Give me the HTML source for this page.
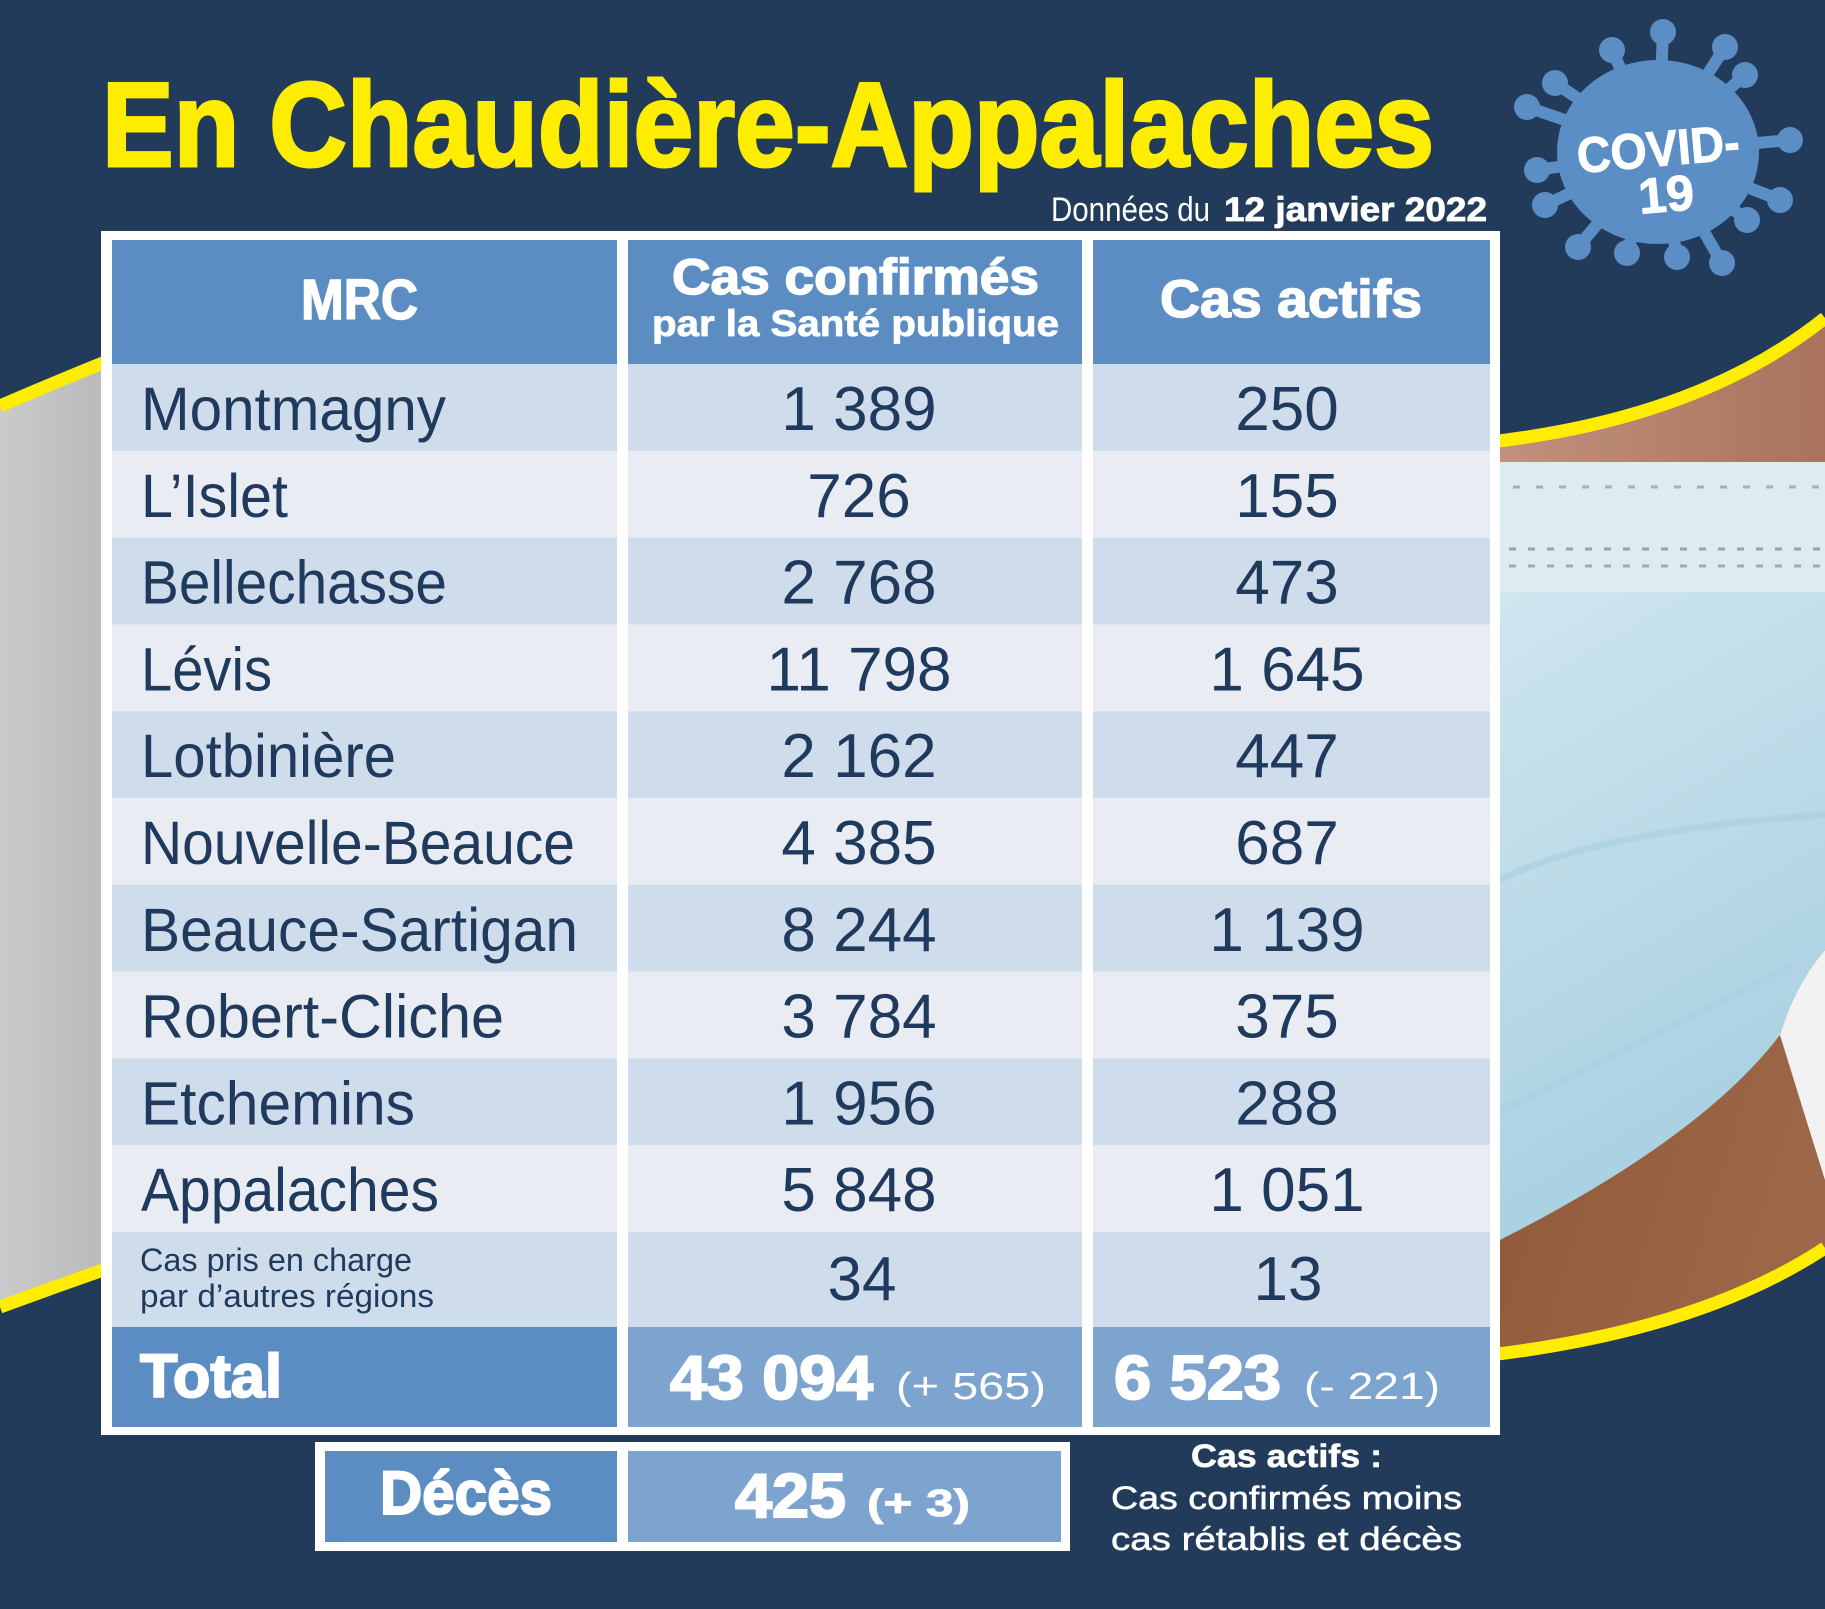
<!DOCTYPE html>
<html>
<head>
<meta charset="utf-8">
<style>
html,body{margin:0;padding:0;background:#223b5b;}
svg{display:block;}
text{font-family:"Liberation Sans",Arial,sans-serif;}
</style>
</head>
<body>
<svg xmlns="http://www.w3.org/2000/svg" width="1825" height="1609" viewBox="0 0 1825 1609">
<defs>
  <linearGradient id="grey" x1="0" x2="1" y1="0" y2="0">
    <stop offset="0" stop-color="#cacaca"/>
    <stop offset="1" stop-color="#b8b8b8"/>
  </linearGradient>
  <linearGradient id="maskg" x1="0" y1="0" x2="0.25" y2="1">
    <stop offset="0" stop-color="#d6ebf1"/>
    <stop offset="0.45" stop-color="#c2deea"/>
    <stop offset="1" stop-color="#a8d0e1"/>
  </linearGradient>
  <linearGradient id="skinb" x1="0" y1="0" x2="1" y2="1">
    <stop offset="0" stop-color="#86502f"/>
    <stop offset="1" stop-color="#a06a4c"/>
  </linearGradient>
  <linearGradient id="skint" x1="0" y1="0" x2="1" y2="0">
    <stop offset="0" stop-color="#c2937f"/>
    <stop offset="1" stop-color="#a9735c"/>
  </linearGradient>
  <clipPath id="rc"><path d="M1490,442 Q1700,418 1825,318 L1825,1248 Q1700,1330 1490,1355 Z"/></clipPath>
</defs>

<rect width="1825" height="1609" fill="#223b5b"/>

<!-- left grey swoosh -->
<path d="M0,406 Q60,380 120,356 L120,1264 Q60,1285 0,1307 Z" fill="url(#grey)"/>
<path d="M0,406 Q60,380 120,356" fill="none" stroke="#ffed00" stroke-width="13"/>
<path d="M0,1307 Q60,1285 120,1264" fill="none" stroke="#ffed00" stroke-width="13"/>

<!-- right photo -->
<g clip-path="url(#rc)">
  <rect x="1480" y="300" width="345" height="1100" fill="url(#skinb)"/>
  <rect x="1480" y="300" width="345" height="170" fill="url(#skint)"/>
  <path d="M1480,462 L1825,462 L1825,950 Q1795,985 1780,1035 Q1700,1140 1490,1245 L1480,1245 Z" fill="url(#maskg)"/>
  <rect x="1480" y="462" width="345" height="130" fill="#dcecf0"/>
  <line x1="1490" y1="487" x2="1825" y2="487" stroke="#9fb4bd" stroke-width="3" stroke-dasharray="7 16"/>
  <line x1="1490" y1="549" x2="1825" y2="549" stroke="#8ea6b1" stroke-width="3" stroke-dasharray="7 12"/>
  <line x1="1490" y1="566" x2="1825" y2="566" stroke="#97adb7" stroke-width="3" stroke-dasharray="7 12"/>
  <path d="M1500,880 Q1600,830 1825,815" fill="none" stroke="#a9cfdf" stroke-width="7" opacity="0.6"/>
  <path d="M1500,1110 Q1650,1040 1790,965" fill="none" stroke="#a6cddf" stroke-width="7" opacity="0.5"/>
  <path d="M1825,950 Q1795,985 1780,1035 Q1800,1100 1825,1180 Z" fill="#f2f2f2"/>
</g>
<path d="M1490,442 Q1700,418 1825,318" fill="none" stroke="#ffed00" stroke-width="13"/>
<path d="M1490,1355 Q1700,1330 1825,1248" fill="none" stroke="#ffed00" stroke-width="13"/>

<!-- Title -->
<text x="102" y="166" font-size="120" font-weight="bold" fill="#ffed00" stroke="#ffed00" stroke-width="3" textLength="1332" lengthAdjust="spacingAndGlyphs">En Chaudière-Appalaches</text>

<!-- Date -->
<text x="1051" y="221" font-size="34" fill="#ffffff" textLength="159" lengthAdjust="spacingAndGlyphs">Données du</text>
<text x="1224" y="221" font-size="34" font-weight="bold" fill="#ffffff" stroke="#ffffff" stroke-width="0.8" textLength="263" lengthAdjust="spacingAndGlyphs">12 janvier 2022</text>

<!-- Virus -->
<g fill="#5b8ec4" stroke="#5b8ec4">
  <g stroke-width="12" fill="none">
    <line x1="1658" y1="152" x2="1663" y2="32"/>
    <line x1="1658" y1="152" x2="1612" y2="50"/>
    <line x1="1658" y1="152" x2="1725" y2="47"/>
    <line x1="1658" y1="152" x2="1745" y2="75"/>
    <line x1="1658" y1="152" x2="1555" y2="83"/>
    <line x1="1658" y1="152" x2="1527" y2="107"/>
    <line x1="1658" y1="152" x2="1790" y2="140"/>
    <line x1="1658" y1="152" x2="1537" y2="170"/>
    <line x1="1658" y1="152" x2="1545" y2="205"/>
    <line x1="1658" y1="152" x2="1780" y2="200"/>
    <line x1="1658" y1="152" x2="1747" y2="220"/>
    <line x1="1658" y1="152" x2="1578" y2="247"/>
    <line x1="1658" y1="152" x2="1627" y2="253"/>
    <line x1="1658" y1="152" x2="1677" y2="257"/>
    <line x1="1658" y1="152" x2="1722" y2="263"/>
  </g>
  <g stroke="none">
    <ellipse cx="1658" cy="152" rx="101" ry="92"/>
    <circle cx="1663" cy="32" r="13"/>
    <circle cx="1612" cy="50" r="13"/>
    <circle cx="1725" cy="47" r="13"/>
    <circle cx="1745" cy="75" r="13"/>
    <circle cx="1555" cy="83" r="13"/>
    <circle cx="1527" cy="107" r="13"/>
    <circle cx="1790" cy="140" r="13"/>
    <circle cx="1537" cy="170" r="13"/>
    <circle cx="1545" cy="205" r="13"/>
    <circle cx="1780" cy="200" r="13"/>
    <circle cx="1747" cy="220" r="13"/>
    <circle cx="1578" cy="247" r="13"/>
    <circle cx="1627" cy="253" r="13"/>
    <circle cx="1677" cy="257" r="13"/>
    <circle cx="1722" cy="263" r="13"/>
  </g>
</g>
<g transform="rotate(-5 1660 170)">
  <text x="1660" y="166" font-size="50" font-weight="bold" fill="#ffffff" stroke="#ffffff" stroke-width="1" text-anchor="middle" textLength="163" lengthAdjust="spacingAndGlyphs">COVID-</text>
  <text x="1664" y="212" font-size="50" font-weight="bold" fill="#ffffff" stroke="#ffffff" stroke-width="1" text-anchor="middle">19</text>
</g>

<!-- Table -->
<rect x="101" y="231" width="1399" height="1204" fill="#ffffff"/>
<rect x="112" y="240" width="505" height="124" fill="#5b8dc3"/>
<rect x="628" y="240" width="454" height="124" fill="#5b8dc3"/>
<rect x="1093" y="240" width="397" height="124" fill="#5b8dc3"/>

<g>
<rect x="112" y="364" width="505" height="87" fill="#cfdcec"/><rect x="628" y="364" width="454" height="87" fill="#cfdcec"/><rect x="1093" y="364" width="397" height="87" fill="#cfdcec"/>
<rect x="112" y="450.8" width="505" height="87" fill="#e9edf3"/><rect x="628" y="450.8" width="454" height="87" fill="#e9edf3"/><rect x="1093" y="450.8" width="397" height="87" fill="#e9edf3"/>
<rect x="112" y="537.6" width="505" height="87" fill="#cfdcec"/><rect x="628" y="537.6" width="454" height="87" fill="#cfdcec"/><rect x="1093" y="537.6" width="397" height="87" fill="#cfdcec"/>
<rect x="112" y="624.4" width="505" height="87" fill="#e9edf3"/><rect x="628" y="624.4" width="454" height="87" fill="#e9edf3"/><rect x="1093" y="624.4" width="397" height="87" fill="#e9edf3"/>
<rect x="112" y="711.2" width="505" height="87" fill="#cfdcec"/><rect x="628" y="711.2" width="454" height="87" fill="#cfdcec"/><rect x="1093" y="711.2" width="397" height="87" fill="#cfdcec"/>
<rect x="112" y="798" width="505" height="87" fill="#e9edf3"/><rect x="628" y="798" width="454" height="87" fill="#e9edf3"/><rect x="1093" y="798" width="397" height="87" fill="#e9edf3"/>
<rect x="112" y="884.8" width="505" height="87" fill="#cfdcec"/><rect x="628" y="884.8" width="454" height="87" fill="#cfdcec"/><rect x="1093" y="884.8" width="397" height="87" fill="#cfdcec"/>
<rect x="112" y="971.6" width="505" height="87" fill="#e9edf3"/><rect x="628" y="971.6" width="454" height="87" fill="#e9edf3"/><rect x="1093" y="971.6" width="397" height="87" fill="#e9edf3"/>
<rect x="112" y="1058.4" width="505" height="87" fill="#cfdcec"/><rect x="628" y="1058.4" width="454" height="87" fill="#cfdcec"/><rect x="1093" y="1058.4" width="397" height="87" fill="#cfdcec"/>
<rect x="112" y="1145.2" width="505" height="87" fill="#e9edf3"/><rect x="628" y="1145.2" width="454" height="87" fill="#e9edf3"/><rect x="1093" y="1145.2" width="397" height="87" fill="#e9edf3"/>
<rect x="112" y="1232" width="505" height="95" fill="#cfdcec"/><rect x="628" y="1232" width="454" height="95" fill="#cfdcec"/><rect x="1093" y="1232" width="397" height="95" fill="#cfdcec"/>
<rect x="112" y="1327" width="505" height="100" fill="#5b8dc3"/><rect x="628" y="1327" width="454" height="100" fill="#7ca4cf"/><rect x="1093" y="1327" width="397" height="100" fill="#7ca4cf"/>
</g>

<g fill="#ffffff" stroke="#ffffff" font-weight="bold">
  <text x="301" y="319" font-size="57" stroke-width="1.5" textLength="117" lengthAdjust="spacingAndGlyphs">MRC</text>
  <text x="672" y="294" font-size="50" stroke-width="1.5" textLength="367" lengthAdjust="spacingAndGlyphs">Cas confirmés</text>
  <text x="652" y="336" font-size="37" stroke-width="0.8" textLength="407" lengthAdjust="spacingAndGlyphs">par la Santé publique</text>
  <text x="1160" y="317" font-size="53" stroke-width="1.5" textLength="262" lengthAdjust="spacingAndGlyphs">Cas actifs</text>
</g>

<g fill="#1f3a5c" font-size="61">
  <text x="141" y="430" textLength="305" lengthAdjust="spacingAndGlyphs">Montmagny</text>
  <text x="141" y="516.8" textLength="147" lengthAdjust="spacingAndGlyphs">L’Islet</text>
  <text x="141" y="603.6" textLength="306" lengthAdjust="spacingAndGlyphs">Bellechasse</text>
  <text x="141" y="690.4" textLength="131" lengthAdjust="spacingAndGlyphs">Lévis</text>
  <text x="141" y="777.2" textLength="255" lengthAdjust="spacingAndGlyphs">Lotbinière</text>
  <text x="141" y="864" textLength="434" lengthAdjust="spacingAndGlyphs">Nouvelle-Beauce</text>
  <text x="141" y="950.8" textLength="437" lengthAdjust="spacingAndGlyphs">Beauce-Sartigan</text>
  <text x="141" y="1037.6" textLength="363" lengthAdjust="spacingAndGlyphs">Robert-Cliche</text>
  <text x="141" y="1124.4" textLength="274" lengthAdjust="spacingAndGlyphs">Etchemins</text>
  <text x="141" y="1211.2" textLength="298" lengthAdjust="spacingAndGlyphs">Appalaches</text>
  <text x="140" y="1271" font-size="32" textLength="272" lengthAdjust="spacingAndGlyphs">Cas pris en charge</text>
  <text x="140" y="1307" font-size="32" textLength="294" lengthAdjust="spacingAndGlyphs">par d’autres régions</text>
</g>

<g fill="#1f3a5c" font-size="62" text-anchor="middle">
  <text x="859" y="430">1 389</text><text x="1287" y="430">250</text>
  <text x="859" y="516.8">726</text><text x="1287" y="516.8">155</text>
  <text x="859" y="603.6">2 768</text><text x="1287" y="603.6">473</text>
  <text x="859" y="690.4">11 798</text><text x="1287" y="690.4">1 645</text>
  <text x="859" y="777.2">2 162</text><text x="1287" y="777.2">447</text>
  <text x="859" y="864">4 385</text><text x="1287" y="864">687</text>
  <text x="859" y="950.8">8 244</text><text x="1287" y="950.8">1 139</text>
  <text x="859" y="1037.6">3 784</text><text x="1287" y="1037.6">375</text>
  <text x="859" y="1124.4">1 956</text><text x="1287" y="1124.4">288</text>
  <text x="859" y="1211.2">5 848</text><text x="1287" y="1211.2">1 051</text>
  <text x="862" y="1300">34</text><text x="1288" y="1300">13</text>
</g>

<g fill="#ffffff">
  <text x="140" y="1397" font-size="61" font-weight="bold" stroke="#ffffff" stroke-width="2" textLength="142" lengthAdjust="spacingAndGlyphs">Total</text>
  <text x="670" y="1399" font-size="62" font-weight="bold" stroke="#ffffff" stroke-width="2" textLength="203" lengthAdjust="spacingAndGlyphs">43 094</text>
  <text x="896" y="1399" font-size="38" textLength="150" lengthAdjust="spacingAndGlyphs">(+ 565)</text>
  <text x="1114" y="1399" font-size="62" font-weight="bold" stroke="#ffffff" stroke-width="2" textLength="167" lengthAdjust="spacingAndGlyphs">6 523</text>
  <text x="1304" y="1399" font-size="38" textLength="136" lengthAdjust="spacingAndGlyphs">(- 221)</text>
</g>

<rect x="315" y="1442" width="755" height="109" fill="#ffffff"/>
<rect x="325" y="1451" width="292" height="91" fill="#5b8dc3"/>
<rect x="628" y="1451" width="433" height="91" fill="#7ca4cf"/>
<g fill="#ffffff" stroke="#ffffff" font-weight="bold">
  <text x="380" y="1514" font-size="61" stroke-width="2" textLength="172" lengthAdjust="spacingAndGlyphs">Décès</text>
  <text x="735" y="1517" font-size="62" stroke-width="2" textLength="111" lengthAdjust="spacingAndGlyphs">425</text>
  <text x="867" y="1516" font-size="38" stroke-width="0.8" textLength="103" lengthAdjust="spacingAndGlyphs">(+ 3)</text>
</g>

<g fill="#ffffff">
  <text x="1191" y="1467" font-size="32" font-weight="bold" stroke="#ffffff" stroke-width="0.6" textLength="191" lengthAdjust="spacingAndGlyphs">Cas actifs :</text>
  <text x="1111" y="1509" font-size="32" stroke="#ffffff" stroke-width="0.5" textLength="351" lengthAdjust="spacingAndGlyphs">Cas confirmés moins</text>
  <text x="1111" y="1550" font-size="32" stroke="#ffffff" stroke-width="0.5" textLength="351" lengthAdjust="spacingAndGlyphs">cas rétablis et décès</text>
</g>
</svg>
</body>
</html>
